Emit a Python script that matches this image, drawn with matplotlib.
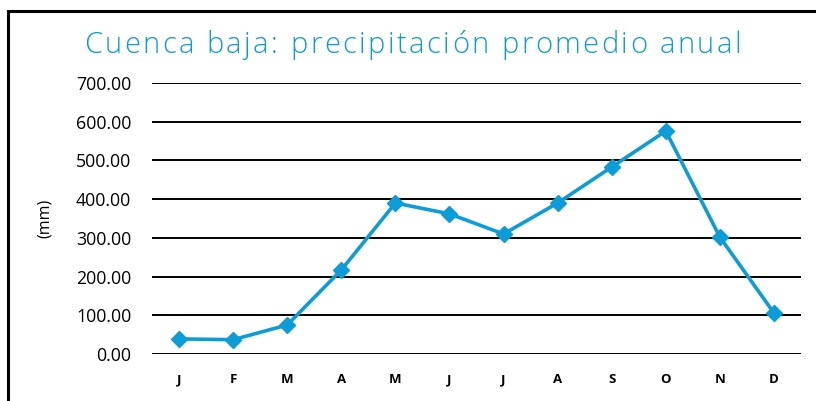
import matplotlib.pyplot as plt
from matplotlib.patches import Rectangle


# Data
months = ["J", "F", "M", "A", "M", "J", "J", "A", "S", "O", "N", "D"]
precip = [39, 37, 75, 217, 390, 362, 310, 390, 483, 576, 302, 106]
yticks = [0, 100, 200, 300, 400, 500, 600, 700]

title = "Cuenca baja: precipitación promedio anual"
ylabel = "(mm)"
blue = "#0c9cd8"
title_font = dict(fontsize=21, family=["Open Sans", "DejaVu Sans"], fontweight="light")

plt.rcParams["font.family"] = ["Open Sans", "DejaVu Sans"]

fig = plt.figure(figsize=(8.16, 4.01), dpi=100)
ax = fig.add_axes([0.1863, 0.1172, 0.7953, 0.6758])

x = list(range(len(months)))
ax.plot(x, precip, color=blue, linewidth=2.6, marker="D", markersize=8,
        solid_joinstyle="round", zorder=3)

ax.set_xlim(-0.5, len(months) - 0.5)
ax.set_ylim(0, 700)
ax.set_yticks(yticks)
ax.set_yticklabels([f"{v:.2f}" for v in yticks], fontsize=12.8)
ax.set_xticks(x)
ax.set_xticklabels(months, fontsize=9.5, fontweight="bold")
ax.tick_params(length=0)
ax.tick_params(axis="y", pad=15)
ax.tick_params(axis="x", pad=14)
ax.grid(axis="y", color="black", linewidth=1.4)
ax.set_axisbelow(True)
for s in ax.spines.values():
    s.set_visible(False)

fig.text(0.0551, 0.456, ylabel, rotation=90, fontsize=11.5, ha="center", va="center")

# title with letter spacing: place characters one by one between x0 and x1
renderer = fig.canvas.get_renderer()
x0_px, x1_px = 84, 741
w_two = fig.text(0, 0, "aa", **title_font).get_window_extent(renderer).width
w_sp = fig.text(0, 0, "a a", **title_font).get_window_extent(renderer).width
space_w = w_sp - w_two
for t in fig.texts[-2:]:
    t.remove()
chars = []
for ch in title:
    t = fig.text(0, 0.887, ch, color=blue, va="center", ha="left", **title_font)
    w = space_w if ch == " " else t.get_window_extent(renderer).width
    chars.append((t, w))
gap = (x1_px - x0_px - sum(w for _, w in chars)) / (len(chars) - 1)
pos = x0_px
for t, w in chars:
    t.set_x(pos / 816)
    pos += w + gap

# frame around the chart (runs off right and bottom edges)
fig.patches.append(Rectangle((0.0098, -0.1), 1.2, 0.1 + 0.9738, transform=fig.transFigure,
                             fill=False, edgecolor="black", linewidth=2.2))

fig.savefig("out.png", dpi=100)
